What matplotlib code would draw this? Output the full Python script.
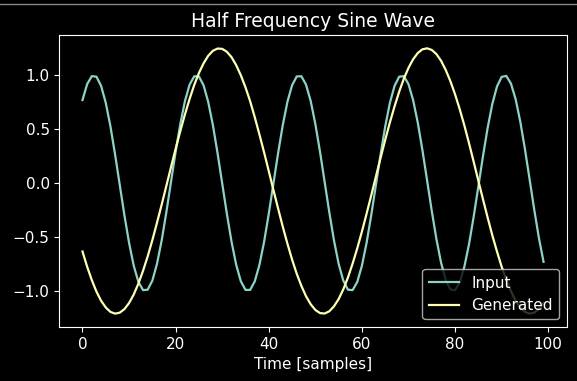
import numpy as np
import matplotlib
matplotlib.use('Agg')
import matplotlib.pyplot as plt
from matplotlib.lines import Line2D

# samples of the input wave and the generated (half frequency) wave
input_wave = [
    0.770, 0.918, 0.992, 0.987, 0.902, 0.744, 0.527, 0.265, -0.016, -0.297,
    -0.553, -0.765, -0.915, -0.992, -0.988, -0.904, -0.748, -0.532, -0.272, 0.010,
    0.291, 0.548, 0.761, 0.913, 0.991, 0.989, 0.907, 0.752, 0.538, 0.278,
    -0.003, -0.284, -0.542, -0.757, -0.910, -0.990, -0.990, -0.910, -0.757, -0.543,
    -0.284, -0.003, 0.278, 0.537, 0.753, 0.907, 0.989, 0.991, 0.913, 0.761,
    0.548, 0.291, 0.010, -0.272, -0.531, -0.748, -0.904, -0.988, -0.992, -0.916,
    -0.765, -0.554, -0.297, -0.017, 0.265, 0.525, 0.743, 0.901, 0.987, 0.992,
    0.918, 0.769, 0.559, 0.303, 0.023, -0.259, -0.520, -0.739, -0.899, -0.986,
    -0.993, -0.921, -0.774, -0.565, -0.310, -0.030, 0.252, 0.514, 0.735, 0.896,
    0.985, 0.994, 0.923, 0.779, 0.571, 0.316, 0.036, -0.246, -0.509, -0.730,
]
generated_wave = [
    -0.634, -0.775, -0.899, -1.006, -1.091, -1.153, -1.194, -1.210, -1.201, -1.168,
    -1.112, -1.033, -0.932, -0.813, -0.679, -0.529, -0.367, -0.200, -0.027, 0.147,
    0.318, 0.482, 0.637, 0.781, 0.911, 1.021, 1.111, 1.181, 1.227, 1.248,
    1.245, 1.218, 1.168, 1.094, 1.000, 0.888, 0.759, 0.610, 0.450, 0.284,
    0.111, -0.064, -0.235, -0.403, -0.561, -0.708, -0.840, -0.953, -1.049, -1.123,
    -1.176, -1.205, -1.209, -1.188, -1.142, -1.075, -0.985, -0.875, -0.746, -0.604,
    -0.449, -0.284, -0.114, 0.061, 0.233, 0.401, 0.562, 0.711, 0.848, 0.968,
    1.069, 1.149, 1.207, 1.241, 1.250, 1.235, 1.196, 1.134, 1.048, 0.945,
    0.823, 0.685, 0.534, 0.369, 0.197, 0.022, -0.151, -0.321, -0.484, -0.634,
    -0.775, -0.896, -1.002, -1.091, -1.155, -1.194, -1.210, -1.201, -1.168, -1.112,
]
samples = np.arange(len(input_wave))

plt.style.use('dark_background')
plt.rcParams['xtick.labelsize'] = 11
plt.rcParams['ytick.labelsize'] = 11

fig = plt.figure(figsize=(5.77, 3.81), dpi=100)
ax = fig.add_axes([0.103, 0.142, 0.879, 0.766])

ax.plot(samples, input_wave, label='Input', lw=1.6)
ax.plot(samples, generated_wave, label='Generated', lw=1.6)

ax.set_title('Half Frequency Sine Wave', fontsize=13.5)
ax.set_xlabel('Time [samples]', fontsize=11)
ax.legend(loc='lower right', fontsize=11)

# thin grey rule along the top edge
fig.add_artist(Line2D([0, 1], [1 - 4 / 381, 1 - 4 / 381], color='#888888', lw=1))

plt.savefig('out.png', dpi=100)
plt.close()
